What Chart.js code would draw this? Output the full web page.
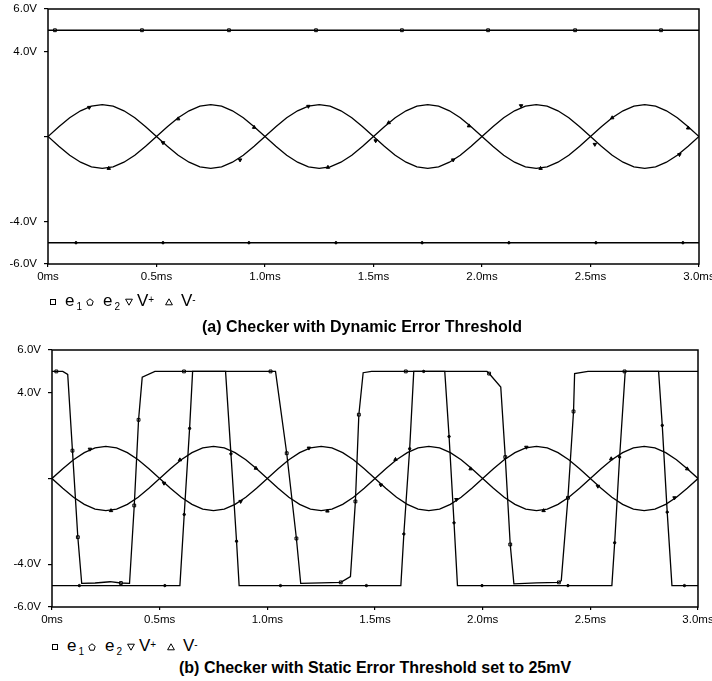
<!DOCTYPE html>
<html>
<head>
<meta charset="utf-8">
<script src="https://cdn.jsdelivr.net/npm/chart.js@4.4.1/dist/chart.umd.min.js"></script>
<style>
  body { margin: 0; background: #fff; font-family: "Liberation Sans", Arial, sans-serif; }
  #wrap { position: relative; width: 712px; height: 681px; overflow: hidden; }
  canvas { position: absolute; left: 0; }
  .lg { position: absolute; font-size: 17px; line-height: 17px; color: #000; white-space: nowrap; }
  .sym { position: absolute; }
  .ttl { position: absolute; font-weight: bold; font-size: 16px; line-height: 16px; white-space: nowrap; }
</style>
</head>
<body>
<div id="wrap">
  <canvas id="chartA" width="712" height="292" style="top:0"></canvas>
  <canvas id="chartB" width="712" height="305" style="top:330px"></canvas>
  <div id="legendA"></div>
  <div id="legendB"></div>
  <div class="ttl" style="left:202px;top:319px">(a) Checker with Dynamic Error Threshold</div>
  <div class="ttl" style="left:179px;top:660px">(b) Checker with Static Error Threshold set to 25mV</div>
</div>
<script>
// time axis (ms) and the two sine inputs, shared by both plots
const timeMs = [0, 0.05, 0.1, 0.15, 0.2, 0.25, 0.3, 0.35, 0.4, 0.45,
  0.5, 0.55, 0.6, 0.65, 0.7, 0.75, 0.8, 0.85, 0.9, 0.95,
  1, 1.05, 1.1, 1.15, 1.2, 1.25, 1.3, 1.35, 1.4, 1.45,
  1.5, 1.55, 1.6, 1.65, 1.7, 1.75, 1.8, 1.85, 1.9, 1.95,
  2, 2.05, 2.1, 2.15, 2.2, 2.25, 2.3, 2.35, 2.4, 2.45,
  2.5, 2.55, 2.6, 2.65, 2.7, 2.75, 2.8, 2.85, 2.9, 2.95, 3];
const vPlus = [0, 0.46, 0.88, 1.21, 1.43, 1.5, 1.43, 1.21, 0.88, 0.46,
  0, -0.46, -0.88, -1.21, -1.43, -1.5, -1.43, -1.21, -0.88, -0.46,
  0, 0.46, 0.88, 1.21, 1.43, 1.5, 1.43, 1.21, 0.88, 0.46,
  0, -0.46, -0.88, -1.21, -1.43, -1.5, -1.43, -1.21, -0.88, -0.46,
  0, 0.46, 0.88, 1.21, 1.43, 1.5, 1.43, 1.21, 0.88, 0.46,
  0, -0.46, -0.88, -1.21, -1.43, -1.5, -1.43, -1.21, -0.88, -0.46, 0];
const vMinus = [0, -0.46, -0.88, -1.21, -1.43, -1.5, -1.43, -1.21, -0.88, -0.46,
  0, 0.46, 0.88, 1.21, 1.43, 1.5, 1.43, 1.21, 0.88, 0.46,
  0, -0.46, -0.88, -1.21, -1.43, -1.5, -1.43, -1.21, -0.88, -0.46,
  0, 0.46, 0.88, 1.21, 1.43, 1.5, 1.43, 1.21, 0.88, 0.46,
  0, -0.46, -0.88, -1.21, -1.43, -1.5, -1.43, -1.21, -0.88, -0.46,
  0, 0.46, 0.88, 1.21, 1.43, 1.5, 1.43, 1.21, 0.88, 0.46, 0];

// (a) dynamic threshold: e1 / e2 stay flat
const e1A = [[0, 5.0], [3.0, 5.0]];
const e2A = [[0, -5.0], [3.0, -5.0]];
const e1MarksA = [[0.032, 5], [0.433, 5], [0.834, 5], [1.235, 5], [1.631, 5], [2.028, 5], [2.429, 5], [2.825, 5]];
const e2MarksA = [[0.129, -5], [0.53, -5], [0.926, -5], [1.327, -5], [1.724, -5], [2.124, -5], [2.525, -5], [2.926, -5]];
const vPlusMarksA = [[0.19, 1.37], [0.53, -0.29], [0.885, -1.1], [1.2, 1.42], [1.51, -0.2], [1.867, -1.1], [2.18, 1.45], [2.52, -0.37], [2.91, -0.85]];
const vMinusMarksA = [[0.28, -1.5], [0.6, 0.83], [0.95, 0.43], [1.29, -1.45], [1.57, 0.65], [1.94, 0.5], [2.27, -1.5], [2.6, 0.88], [2.95, 0.4]];

// (b) static threshold: e1 / e2 switch
const e1B = [[0, 5.0], [0.05, 5.0], [0.073, 4.86], [0.095, 1.3], [0.12, -2.74], [0.138, -4.9], [0.2, -4.88],
  [0.27, -4.82], [0.32, -4.88], [0.36, -4.9], [0.382, -1.26], [0.402, 2.74], [0.419, 4.73], [0.478, 5.0],
  [1.038, 5.0], [1.09, 1.18], [1.135, -2.8], [1.155, -4.9], [1.25, -4.87], [1.341, -4.85], [1.386, -4.58],
  [1.409, -1.07], [1.425, 2.98], [1.445, 4.94], [1.484, 5.0], [2.02, 5.0], [2.03, 4.9], [2.084, 4.27],
  [2.105, 1.0], [2.128, -3.08], [2.145, -4.92], [2.25, -4.87], [2.354, -4.85], [2.365, -4.77],
  [2.396, -0.9], [2.422, 3.13], [2.427, 4.9], [2.489, 5.0], [3.0, 5.0]];
const e2B = [[0, -5.0], [0.594, -5.0], [0.614, -1.68], [0.639, 2.34], [0.653, 5.0], [0.806, 5.0], [0.831, 1.15],
  [0.857, -2.93], [0.869, -5.0], [1.62, -5.0], [1.634, -2.59], [1.661, 1.39], [1.68, 5.0], [1.824, 5.0],
  [1.844, 1.96], [1.867, -2.07], [1.883, -5.0], [2.6, -5.0], [2.613, -3.0], [2.636, 1.0], [2.662, 5.0],
  [2.817, 5.0], [2.834, 2.48], [2.857, -1.57], [2.879, -5.0], [3.0, -5.0]];
const e1MarksB = [[0.02, 5], [0.095, 1.3], [0.12, -2.74], [0.32, -4.88], [0.382, -1.26], [0.402, 2.74], [0.613, 5],
  [1.015, 5], [1.09, 1.18], [1.135, -2.8], [1.341, -4.85], [1.409, -1.07], [1.425, 2.98], [1.643, 5],
  [2.03, 4.9], [2.105, 1.0], [2.128, -3.08], [2.354, -4.85], [2.396, -0.9], [2.422, 3.13], [2.659, 5]];
const e2MarksB = [[0.127, -5], [0.524, -5], [0.614, -1.68], [0.639, 2.34], [0.831, 1.15], [0.857, -2.93], [1.061, -5],
  [1.46, -5], [1.634, -2.59], [1.661, 1.39], [1.726, 5], [1.844, 1.96], [1.867, -2.07], [1.997, -5], [2.396, -5],
  [2.613, -3.0], [2.636, 1.0], [2.834, 2.48], [2.857, -1.57], [2.937, -5]];
const vPlusMarksB = [[0.176, 1.37], [0.52, -0.22], [0.876, -1.07], [1.193, 1.42], [1.527, -0.3], [1.878, -0.98], [2.203, 1.46], [2.535, -0.36], [2.891, -0.9]];
const vMinusMarksB = [[0.274, -1.5], [0.594, 0.87], [0.947, 0.48], [1.279, -1.52], [1.595, 0.89], [1.944, 0.45], [2.283, -1.5], [2.597, 0.92], [2.95, 0.45]];

const yTicks = [-6, -4, 0, 4, 6];

const pts = (arr) => arr.map((p) => ({ x: p[0], y: p[1] }));
const zip = (xs, ys) => xs.map((x, i) => ({ x: x, y: ys[i] }));

// box round the plot area
const framePlugin = {
  id: "frame",
  afterDatasetsDraw(chart) {
    const { ctx, chartArea: a } = chart;
    ctx.save();
    ctx.strokeStyle = "#000";
    ctx.lineWidth = 1.5;
    ctx.strokeRect(a.left, a.top, a.right - a.left, a.bottom - a.top);
    ctx.restore();
  },
};

function lineSet(data) {
  return { data: data, showLine: true, borderColor: "#000", borderWidth: 1.3, pointRadius: 0, tension: 0, fill: false };
}
function markSet(data, style, rot, fillCol, r) {
  return {
    data: data, showLine: false, pointStyle: style, rotation: rot, pointRadius: r,
    backgroundColor: fillCol, borderColor: "#000", borderWidth: 1, pointHoverRadius: 0,
  };
}

function makeChart(id, s, box) {
  const font = { family: "'Liberation Sans', Arial, sans-serif", size: 11.5 };
  new Chart(document.getElementById(id), {
    type: "scatter",
    data: {
      datasets: [
        lineSet(s.e1), lineSet(s.e2), lineSet(zip(timeMs, vPlus)), lineSet(zip(timeMs, vMinus)),
        markSet(pts(s.e1m), "rect", 0, "#fff", 2),
        markSet(pts(s.e2m), "circle", 0, "#000", 1.2),
        markSet(pts(s.vpm), "triangle", 180, "#000", 2),
        markSet(pts(s.vmm), "triangle", 0, "#000", 2),
      ],
    },
    options: {
      responsive: false,
      animation: false,
      events: [],
      layout: { padding: { left: 0, right: box.right, top: box.top, bottom: 0 } },
      plugins: { legend: { display: false }, tooltip: { enabled: false } },
      scales: {
        x: {
          type: "linear", min: 0, max: 3,
          border: { display: false },
          grid: { drawOnChartArea: false, color: "#000", tickLength: 3, lineWidth: 1.2 },
          ticks: {
            stepSize: 0.5, color: "#000", font: font, padding: 3, maxRotation: 0,
            callback: (v) => (v === 0 ? "0ms" : v.toFixed(1) + "ms"),
          },
          afterFit: (sc) => { sc.height = 28; sc.paddingLeft = 0; sc.paddingRight = 0; },
        },
        y: {
          type: "linear", min: -6, max: 6,
          border: { display: false },
          grid: { drawOnChartArea: false, color: "#000", tickLength: 4, lineWidth: 1.2 },
          afterBuildTicks: (sc) => { sc.ticks = yTicks.map((v) => ({ value: v })); },
          ticks: {
            color: "#000", font: font, padding: 7,
            callback: (v) => (v === 0 ? "" : v.toFixed(1) + "V"),
          },
          afterFit: (sc) => { sc.width = box.left; sc.paddingTop = 0; sc.paddingBottom = 0; },
        },
      },
    },
    plugins: [framePlugin],
  });
}

makeChart("chartA", { e1: pts(e1A), e2: pts(e2A), e1m: e1MarksA, e2m: e2MarksA, vpm: vPlusMarksA, vmm: vMinusMarksA },
  { left: 48, right: 13, top: 9 });
makeChart("chartB", { e1: pts(e1B), e2: pts(e2B), e1m: e1MarksB, e2m: e2MarksB, vpm: vPlusMarksB, vmm: vMinusMarksB },
  { left: 52, right: 14, top: 20 });

// legend rows (symbols drawn as small svg, labels as text)
const symbols = {
  square: '<rect x="1.5" y="1.5" width="5" height="5"/>',
  pent: '<polygon points="4,0.8 7.2,3.4 6,7.2 2,7.2 0.8,3.4"/>',
  down: '<polygon points="0.6,1.2 7.4,1.2 4,7.2"/>',
  up: '<polygon points="4,0.8 7.4,6.8 0.6,6.8"/>',
};
function buildLegend(id, left, mid) {
  const el = document.getElementById(id);
  const sym = (name, cx) =>
    '<svg class="sym" width="8" height="8" style="left:' + (cx - 4) + 'px;top:' + (mid - 4) + 'px" fill="none" stroke="#000" stroke-width="1">' + symbols[name] + "</svg>";
  const txt = (x, main, small, isSub) =>
    '<div class="lg" style="left:' + x + 'px;top:' + (mid - 10) + 'px">' + main +
    '<span style="font-size:10px;position:relative;margin-left:' + (isSub ? 2 : 0) + 'px;top:' + (isSub ? 4 : -3) + 'px">' + small + "</span></div>";
  el.innerHTML =
    sym("square", left + 2.5) + txt(left + 15, "e", "1", true) +
    sym("pent", left + 40) + txt(left + 53, "e", "2", true) +
    sym("down", left + 78.5) + txt(left + 87, "V", "+", false) +
    sym("up", left + 118.5) + txt(left + 131, "V", "-", false);
  el.style.position = "absolute";
  el.style.left = "0";
  el.style.top = "0";
}
buildLegend("legendA", 50, 302);
buildLegend("legendB", 52, 647);
</script>
</body>
</html>
